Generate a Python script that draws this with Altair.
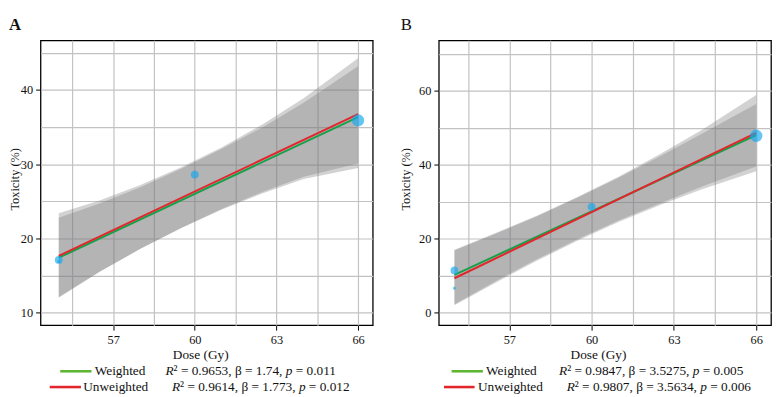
import altair as alt
import pandas as pd

FONT = "Liberation Serif"

# ---------------- data ----------------
ci_dose = [55, 56.5, 58, 59.5, 61, 62.5, 64, 66]
fit_dose = [55, 66]
x_grid = [55.5, 57, 58.5, 60, 61.5, 63, 64.5, 66]

# Panel A
a_dose = [55, 55, 60, 66]
a_tox = [17.1, 16.9, 28.6, 35.9]
a_weight = [62, 10, 64, 155]
a_fit_weighted = [17.4, 36.35]
a_fit_unweighted = [17.65, 36.75]
a_ci_w_lo = [12.1, 15.5, 18.6, 21.4, 24.0, 26.3, 28.3, 30.1]
a_ci_w_hi = [22.8, 24.7, 26.9, 29.4, 32.1, 35.0, 38.3, 43.2]
a_ci_u_lo = [12.0, 15.5, 18.6, 21.4, 23.9, 26.1, 28.0, 29.5]
a_ci_u_hi = [23.4, 25.1, 27.2, 29.6, 32.3, 35.4, 38.9, 44.3]
a_y_grid = [10, 15, 20, 25, 30, 35, 40, 45]
a_stats_w = ("0.9653", "1.74", "0.011")
a_stats_u = ("0.9614", "1.773", "0.012")

# Panel B
b_dose = [55, 55, 60, 66]
b_tox = [11.4, 6.6, 28.6, 47.8]
b_weight = [62, 8, 64, 160]
b_fit_weighted = [10.2, 48.0]
b_fit_unweighted = [9.3, 48.6]
b_ci_w_lo = [2.3, 8.5, 14.4, 19.9, 25.0, 29.6, 34.0, 39.5]
b_ci_w_hi = [16.8, 21.3, 26.0, 31.1, 36.5, 42.3, 48.3, 56.4]
b_ci_u_lo = [2.0, 8.1, 14.0, 19.5, 24.6, 29.1, 33.3, 38.2]
b_ci_u_hi = [17.0, 21.5, 26.2, 31.3, 36.8, 42.9, 49.3, 58.8]
b_y_grid = [0, 10, 20, 30, 40, 50, 60, 70]
b_stats_w = ("0.9847", "3.5275", "0.005")
b_stats_u = ("0.9807", "3.5634", "0.006")

# ---------------- styling ----------------
W, H = 337, 289
GREEN_LINE = "#17a04a"
GREEN_LEG = "#5db632"
RED = "#e3262b"
PT = "#12a8ee"
BAND = "#76767a"
TXT = "#111111"
LEG_FS = 13.5

anno_df = pd.DataFrame({"k": [0]})

# Liberation Serif (Times metrics) advance widths per 1000 em
REG = {" ": 250, ".": 250, ",": 250, "=": 564, "\u00b2": 300, "\u03b2": 500}
for d in "0123456789":
    REG[d] = 500


def width(s, fs):
    return sum(REG.get(c, 500) for c in s) * fs / 1000.0


def text(s, x, y, fs=LEG_FS, italic=False, bold=False, align="left", angle=0):
    return alt.Chart(anno_df).mark_text(
        text=s, align=align, baseline="alphabetic", font=FONT, fontSize=fs,
        fontStyle="italic" if italic else "normal",
        fontWeight="bold" if bold else "normal", angle=angle, color=TXT,
    ).encode(x=alt.value(x), y=alt.value(y))


def rule(x1, x2, y, color):
    return alt.Chart(anno_df).mark_rule(color=color, strokeWidth=2.6).encode(
        x=alt.value(x1), x2=alt.value(x2), y=alt.value(y))


def spacer(y_top):
    # invisible vertical rule fixing the space kept above the plot
    return alt.Chart(anno_df).mark_rule(opacity=0, strokeWidth=1).encode(
        x=alt.value(10), y=alt.value(y_top), y2=alt.value(0))


def stats_text(stats, x0, y, fs=LEG_FS):
    r2, beta, p = stats
    layers = []
    x = x0
    layers.append(text("R", x, y, fs, italic=True))
    x += 611 * fs / 1000.0
    seg = "\u00b2 = " + r2 + ", \u03b2 = " + beta + ","
    layers.append(text(seg, x, y, fs))
    x += width(seg, fs) + 250 * fs / 1000.0
    layers.append(text("p", x, y, fs, italic=True))
    x += (500 + 250) * fs / 1000.0
    layers.append(text("= " + p, x, y, fs))
    return layers


def panel(letter, bold, dose, tox, wt, fw, fu, wlo, whi, ulo, uhi,
          xdom, ydom, ygrid, ystep, stats_w, stats_u, lay):
    xs = alt.Scale(domain=xdom, nice=False, zero=False)
    ys = alt.Scale(domain=ydom, nice=False, zero=False)
    xaxis = alt.Axis(
        values=x_grid, title=None, labelPadding=4,
        labelFont=FONT, labelFontSize=12.5, labelColor=TXT,
        labelExpr="datum.value % 3 === 0 ? datum.label : ''",
        tickOpacity={"condition": {"test": "datum.value % 3 === 0", "value": 1}, "value": 0},
    )
    yaxis = alt.Axis(
        values=ygrid, title=None, labelPadding=3,
        labelFont=FONT, labelFontSize=12.5, labelColor=TXT,
        labelExpr=f"datum.value % {ystep} === 0 ? datum.label : ''",
        tickOpacity={"condition": {"test": f"datum.value % {ystep} === 0", "value": 1}, "value": 0},
    )
    X = lambda f: alt.X(f"{f}:Q", scale=xs, axis=xaxis)
    Y = lambda f: alt.Y(f"{f}:Q", scale=ys, axis=yaxis)

    band_df = pd.DataFrame({
        "dose": ci_dose * 2,
        "lo": wlo + ulo,
        "hi": whi + uhi,
        "fit": ["Weighted"] * len(ci_dose) + ["Unweighted"] * len(ci_dose),
    })
    bands = alt.Chart(band_df).mark_area(color=BAND, opacity=0.33).encode(
        x=X("dose"), y=Y("lo"), y2="hi:Q", detail="fit:N")

    line_df = pd.DataFrame({
        "dose": fit_dose * 2,
        "tox": fw + fu,
        "fit": ["Weighted"] * 2 + ["Unweighted"] * 2,
    })
    lines = alt.Chart(line_df).mark_line(strokeWidth=2).encode(
        x=X("dose"), y=Y("tox"),
        color=alt.Color("fit:N", scale=alt.Scale(domain=["Weighted", "Unweighted"],
                                                 range=[GREEN_LINE, RED]), legend=None),
        detail="fit:N")

    pt_df = pd.DataFrame({"dose": dose, "tox": tox, "w": wt})
    pts = alt.Chart(pt_df).mark_circle(color=PT, opacity=0.65).encode(
        x=X("dose"), y=Y("tox"),
        size=alt.Size("w:Q", scale=alt.Scale(domain=[0, 160], range=[0, 160]), legend=None))

    annos = [
        spacer(-29),
        text(letter, lay["letter_x"], -10.3, fs=17, bold=bold),
        text("Toxicity (%)", lay["ytitle_x"], 141, fs=12.5, align="center", angle=270),
        text("Dose (Gy)", lay["xtitle_x"], 323.3, fs=LEG_FS, align="center"),
        rule(lay["g1"], lay["g2"], 335.7, GREEN_LEG),
        text("Weighted", lay["wx"], 339.7),
        rule(lay["r1"], lay["r2"], 351.7, RED),
        text("Unweighted", lay["ux"], 355.7),
    ]
    annos += stats_text(stats_w, lay["sw"], 339.7)
    annos += stats_text(stats_u, lay["su"], 355.7)

    return alt.layer(bands, lines, pts, *annos).properties(width=W, height=H)


lay_a = dict(letter_x=-32, ytitle_x=-22, xtitle_x=162.5, g1=20, g2=51.7, wx=55, sw=126.7,
             r1=9.3, r2=41, ux=43.3, su=133.3)
lay_b = dict(letter_x=-38.7, ytitle_x=-29, xtitle_x=162, g1=13, g2=44.7, wx=48, sw=122,
             r1=5.3, r2=36.3, ux=39.7, su=129.7)

chart_a = panel("A", True, a_dose, a_tox, a_weight, a_fit_weighted, a_fit_unweighted,
                a_ci_w_lo, a_ci_w_hi, a_ci_u_lo, a_ci_u_hi,
                [54.33, 66.54], [8.3, 46.7], a_y_grid, 10, a_stats_w, a_stats_u, lay_a)
chart_b = panel("B", False, b_dose, b_tox, b_weight, b_fit_weighted, b_fit_unweighted,
                b_ci_w_lo, b_ci_w_hi, b_ci_u_lo, b_ci_u_hi,
                [54.43, 66.54], [-3.4, 73.6], b_y_grid, 20, b_stats_w, b_stats_u, lay_b)

chart = alt.hconcat(chart_a, chart_b, spacing=26).properties(
    padding=0
).configure_view(
    stroke="black", strokeWidth=1.3
).configure_axis(
    grid=True, gridColor="#c2c2c2", gridWidth=1.2, domain=False,
    tickColor="black", tickSize=5, tickWidth=1,
    labelFont=FONT, labelFontSize=12.5, labelColor=TXT,
)

chart.save("out.html", embed_options={"renderer": "svg", "actions": False})
